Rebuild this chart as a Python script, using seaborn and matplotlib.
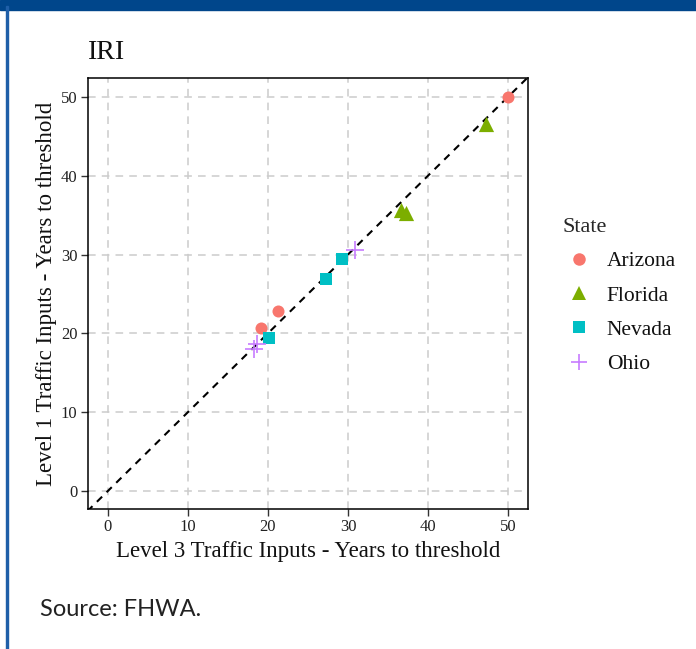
import pandas as pd
import matplotlib.pyplot as plt
import seaborn as sb
from matplotlib.patches import Rectangle
from matplotlib.lines import Line2D

# values
arizona_l3 = [50.0, 19.1, 21.3]
arizona_l1 = [50.0, 20.7, 22.8]
florida_l3 = [47.2, 36.6, 37.2]
florida_l1 = [46.5, 35.7, 35.3]
nevada_l3 = [20.1, 27.2, 29.3]
nevada_l1 = [19.4, 26.9, 29.4]
ohio_l3 = [30.9, 18.2, 18.6]
ohio_l1 = [30.6, 18.0, 18.6]
states = ['Arizona', 'Florida', 'Nevada', 'Ohio']
ticks = [0, 10, 20, 30, 40, 50]

rows = []
for st, xs, ys in zip(states, [arizona_l3, florida_l3, nevada_l3, ohio_l3],
                      [arizona_l1, florida_l1, nevada_l1, ohio_l1]):
    for x, y in zip(xs, ys):
        rows.append({'State': st, 'L3': x, 'L1': y})
df = pd.DataFrame(rows)

colors = {'Arizona': '#F8766D', 'Florida': '#7CAE00', 'Nevada': '#00BFC4', 'Ohio': '#C77CFF'}
marks = {'Arizona': 'o', 'Florida': '^', 'Nevada': 's', 'Ohio': '+'}
sizes = {'Arizona': 75, 'Florida': 120, 'Nevada': 80, 'Ohio': 170}

sb.set_style('white')
plt.rcParams['font.family'] = ['Liberation Serif', 'DejaVu Serif']

fig = plt.figure(figsize=(6.96, 6.49), dpi=100)
ax = fig.add_axes([0.1264, 0.2157, 0.6322, 0.6641])

# y = x reference line
ax.plot([-5, 55], [-5, 55], ls=(0, (3.5, 3)), color='black', lw=1.5, zorder=2)

for st in states:
    sub = df[df['State'] == st]
    sb.scatterplot(data=sub, x='L3', y='L1', color=colors[st], marker=marks[st],
                   s=sizes[st], linewidth=1.2 if st == 'Ohio' else 0,
                   ax=ax, zorder=3, legend=False)

ax.set_xlim(-2.5, 52.5)
ax.set_ylim(-2.3, 52.4)
ax.set_xticks(ticks)
ax.set_yticks(ticks)
ax.grid(True, ls=(0, (5, 4)), color='#CCCCCC', lw=1.1)
ax.set_axisbelow(True)
for sp in ax.spines.values():
    sp.set_color('black')
    sp.set_linewidth(1.1)
ax.tick_params(axis='both', direction='out', length=5, width=1, color='#333333',
               labelsize=12, labelcolor='#222222', pad=2.5, bottom=True, left=True)

ax.set_xlabel('Level 3 Traffic Inputs - Years to threshold', fontsize=16.5, labelpad=4, color='#111111')
ax.set_ylabel('Level 1 Traffic Inputs - Years to threshold', fontsize=16.5, labelpad=3, color='#111111')
ax.set_title('IRI', fontsize=20, loc='left', pad=14, color='#111111')

handles = []
msz = {'Arizona': 9, 'Florida': 10, 'Nevada': 8.5, 'Ohio': 12}
for st in states:
    handles.append(Line2D([], [], ls='none', marker=marks[st], color=colors[st],
                          markersize=msz[st], markeredgewidth=1.2 if st == 'Ohio' else 0,
                          label=st))
leg = fig.legend(handles=handles, title='State', loc='upper left', bbox_to_anchor=(0.78, 0.694),
                 frameon=False, fontsize=15.5, title_fontsize=16, handlelength=1.6,
                 handletextpad=0.47, labelspacing=0.66, alignment='left', borderpad=0.4)
for t in leg.get_texts():
    t.set_color('#111111')

# blue frame
fig.patches.append(Rectangle((0, 0.985), 1, 0.015, transform=fig.transFigure,
                             color='#00468B', zorder=0))
fig.patches.append(Rectangle((0.0086, 0), 0.0029, 0.99, transform=fig.transFigure,
                             color='#1F5FA8', zorder=0))

fig.text(40 / 696, 1 - 610 / 649, 'Source: FHWA.', fontsize=17, color='#222222',
         family='Lato', va='center', ha='left')

fig.savefig('out.png', dpi=100)
